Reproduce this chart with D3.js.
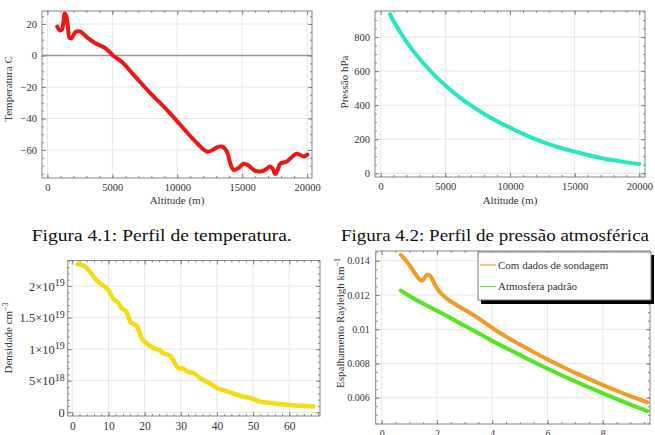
<!DOCTYPE html>
<html><head><meta charset="utf-8">
<script src="https://cdn.jsdelivr.net/npm/d3@7"></script>
<style>body{margin:0;background:#fff} svg{display:block}</style>
</head><body><svg id="c" width="655" height="435"></svg>
<script>
// ---------- data ----------
const tempAlt = [750, 950, 1130, 1330, 1450, 1560, 1715, 1900, 2150, 2490, 2800, 3050, 3690, 4460, 5050, 5740, 6640, 7920, 9200, 10230, 11510, 12280, 12670, 13050, 13440, 13820, 14080, 14330, 14720, 15100, 15490, 16000, 16640, 17150, 17360, 17540, 17740, 17920, 18440, 19200, 19720, 20020];
const tempVal = [18.4, 15.9, 16.8, 26.9, 25, 19.5, 11, 11.4, 14.8, 15.3, 13.5, 11.5, 7.8, 4.7, 0, -4.2, -12.3, -23.9, -34.5, -44, -55.6, -61, -60.3, -58.4, -57.8, -61, -68.3, -72.6, -71.5, -68.8, -69.8, -73.2, -73.2, -70.5, -72, -75.3, -72.6, -68.8, -67.3, -62.4, -64.1, -62.9];

const pressAlt = [720, 1000, 2000, 3000, 4000, 5000, 6000, 7000, 8000, 9000, 10000, 11000, 12000, 13000, 14000, 15000, 16000, 17000, 18000, 19000, 20000];
const pressVal = [935, 893, 772, 672, 588, 515, 452, 397, 348, 306, 268, 231, 199, 171, 147, 127, 107, 90, 76, 64, 54];

const densX = [1.4, 3.5, 4.7, 6.3, 7.7, 9, 10.2, 11.3, 12.7, 13.6, 15.0, 16.1, 17.8, 19.2, 20.6, 22.4, 24.0, 25.3, 27.0, 28.1, 29.3, 30.7, 32.0, 33.7, 35.3, 36.7, 38.0, 39.9, 41.7, 44.5, 47.2, 49.5, 51.9, 54.6, 57.4, 60.1, 62.9, 66.6];
const densVal = [2.35e19, 2.31e19, 2.24e19, 2.12e19, 2.04e19, 1.99e19, 1.92e19, 1.80e19, 1.74e19, 1.65e19, 1.59e19, 1.43e19, 1.37e19, 1.17e19, 1.09e19, 1.02e19, 0.99e19, 0.93e19, 0.90e19, 0.80e19, 0.70e19, 0.69e19, 0.64e19, 0.62e19, 0.54e19, 0.50e19, 0.46e19, 0.39e19, 0.35e19, 0.30e19, 0.25e19, 0.22e19, 0.17e19, 0.15e19, 0.13e19, 0.115e19, 0.105e19, 0.09e19];

const rayX1 = [0.69, 1.0, 1.2, 1.39, 1.5, 1.63, 1.75, 1.93, 2.11, 2.47, 2.95, 3.56, 4.16, 4.76, 5.36, 5.97, 6.57, 7.17, 7.78, 8.38, 8.98, 9.62];
const raySondagem = [0.01435, 0.01376, 0.01328, 0.01288, 0.01288, 0.01318, 0.01312, 0.01259, 0.01216, 0.01165, 0.01119, 0.01058, 0.0099, 0.00932, 0.00879, 0.00826, 0.00778, 0.00733, 0.0069, 0.00649, 0.0061, 0.00573];
const rayX2 = [0.69, 1.14, 1.75, 2.35, 2.95, 3.56, 4.16, 4.76, 5.36, 5.97, 6.57, 7.17, 7.78, 8.38, 8.98, 9.62];
const rayPadrao = [0.01226, 0.01181, 0.01129, 0.01078, 0.01025, 0.00972, 0.00918, 0.00869, 0.0082, 0.00772, 0.00727, 0.00684, 0.00641, 0.006, 0.00561, 0.00522];

const altTicks = [0, 5000, 10000, 15000, 20000];
const tempTicks = [-60, -40, -20, 0, 20];
const pressTicks = [0, 200, 400, 600, 800];
const densXTicks = [0, 10, 20, 30, 40, 50, 60];
const densYTicks = [0, 5e18, 1e19, 1.5e19, 2e19];
const densYLabels = [["0", ""], ["5\u00d710", "18"], ["1\u00d710", "19"], ["1.5\u00d710", "19"], ["2\u00d710", "19"]];
const rayXTicks = [0, 2, 4, 6, 8];
const rayYTicks = [0.006, 0.008, 0.01, 0.012, 0.014];
const rayYLabels = ["0.006", "0.008", "0.01", "0.012", "0.014"];
const legendLabels = ["Com dados de sondagem", "Atmosfera padr\u00e3o"];
const captions = ["Figura 4.1: Perfil de temperatura.", "Figura 4.2: Perfil de press\u00e3o atmosf\u00e9rica"];

// ---------- drawing ----------
const svg = d3.select("#c");
const FONT = "'Liberation Serif', 'Times New Roman', serif";
const FRAME = "#858585";
const GRID = "#e6e6e6";

function range(a, b, s) { const r = []; for (let v = a; v <= b + s * 1e-6; v += s) r.push(+v.toPrecision(10)); return r; }

function panel(o) {
  const g = svg.append("g");
  const x = d3.scaleLinear().domain(o.xd).range([o.l, o.r]);
  const y = d3.scaleLinear().domain(o.yd).range([o.b, o.t]);
  g.selectAll(".gx").data(o.xt.filter(v => x(v) > o.l + 3 && x(v) < o.r - 3)).join("line")
    .attr("x1", d => x(d)).attr("x2", d => x(d)).attr("y1", o.t).attr("y2", o.b)
    .attr("stroke", GRID).attr("stroke-width", 1);
  g.selectAll(".gy").data(o.yt.filter(v => y(v) > o.t + 3 && y(v) < o.b - 3)).join("line")
    .attr("y1", d => y(d)).attr("y2", d => y(d)).attr("x1", o.l).attr("x2", o.r)
    .attr("stroke", GRID).attr("stroke-width", 1);
  if (o.zero) {
    g.append("line").attr("x1", o.l).attr("x2", o.r).attr("y1", y(0)).attr("y2", y(0))
      .attr("stroke", "#9a9a9a").attr("stroke-width", 1.5);
  }
  o.series.forEach(s => {
    const pts = s.x.map((v, i) => [v, s.y[i]]);
    g.append("path").datum(pts)
      .attr("d", d3.line().x(d => x(d[0])).y(d => y(d[1])).curve(d3.curveCatmullRom.alpha(0.5)))
      .attr("fill", "none").attr("stroke", s.color).attr("stroke-width", s.w || 4)
      .attr("stroke-linejoin", "round").attr("stroke-linecap", "round");
  });
  const xm = range(o.xm[0], o.xm[1], o.xm[2]).filter(v => x(v) >= o.l && x(v) <= o.r);
  const ym = range(o.ym[0], o.ym[1], o.ym[2]).filter(v => y(v) >= o.t && y(v) <= o.b);
  const mk = (axis, tr, vals, size, fmt, pad, fs) => {
    const a = g.append("g").attr("transform", tr)
      .call(axis.tickValues(vals).tickSize(size).tickPadding(pad || 3).tickFormat(fmt || ""));
    a.select(".domain").remove();
    a.selectAll("line").attr("stroke", FRAME);
    a.selectAll("text").attr("font-family", FONT).attr("font-size", fs || o.fs).attr("fill", "#333");
    return a;
  };
  mk(d3.axisBottom(x), `translate(0,${o.b})`, xm, -2);
  mk(d3.axisTop(x), `translate(0,${o.t})`, xm, -2);
  mk(d3.axisLeft(y), `translate(${o.l},0)`, ym, -2);
  mk(d3.axisRight(y), `translate(${o.r},0)`, ym, -2);
  mk(d3.axisBottom(x), `translate(0,${o.b})`, o.xt, -4, o.xf || (d => d), o.xpad, o.xfs);
  mk(d3.axisTop(x), `translate(0,${o.t})`, o.xt, -4);
  const ly = mk(d3.axisLeft(y), `translate(${o.l},0)`, o.yt, -4, o.yf || (d => d), o.ypad, o.yfs);
  mk(d3.axisRight(y), `translate(${o.r},0)`, o.yt, -4);
  if (o.ysup) {
    const yfs = o.yfs || o.fs;
    ly.selectAll("text").each(function (d, i) {
      const t = d3.select(this); t.text("");
      const lab = o.ysup[i];
      t.append("tspan").text(lab[0]);
      if (lab[1]) t.append("tspan").attr("dy", "-0.42em").attr("font-size", yfs * 0.8).text(lab[1]);
    });
  }
  g.append("rect").attr("x", o.l).attr("y", o.t).attr("width", o.r - o.l).attr("height", o.b - o.t)
    .attr("fill", "none").attr("stroke", FRAME).attr("stroke-width", 1);
  if (o.xl) g.append("text").attr("x", (o.l + o.r) / 2 + (o.xlo || 0)).attr("y", o.xly).attr("text-anchor", "middle")
    .attr("font-family", FONT).attr("font-size", o.lfs).attr("fill", "#333").text(o.xl);
  if (o.yl) {
    const t = g.append("text").attr("transform", `translate(${o.ylx},${o.yly}) rotate(-90)`).attr("text-anchor", "middle")
      .attr("font-family", FONT).attr("font-size", o.ylfs || o.lfs).attr("fill", "#333");
    t.append("tspan").text(o.yl);
    if (o.ylsup) t.append("tspan").attr("dy", "-0.45em").attr("font-size", (o.ylfs || o.lfs) * 0.72).text(o.ylsup);
  }
  return { g, x, y };
}

const minus = d => d < 0 ? "\u2212" + Math.abs(d) : String(d);

// Panel 1: temperature
panel({
  l: 42, r: 312, t: 11, b: 178, xd: [-420, 20380], yd: [-77.8, 28.25],
  xt: altTicks, yt: tempTicks, xm: [0, 20000, 1000], ym: [-75, 25, 5],
  yf: minus, fs: 10.5, xpad: 6, ypad: 5, zero: true,
  series: [{ x: tempAlt, y: tempVal, color: "#ee1515", w: 4 }],
  xl: "Altitude (m)", xly: 204, lfs: 11, yl: "Temperatura C", ylx: 12, yly: 89
});

// Panel 2: pressure
panel({
  l: 375, r: 645, t: 11, b: 177, xd: [-440, 20440], yd: [-22, 953],
  xt: altTicks, yt: pressTicks, xm: [0, 20000, 1000], ym: [0, 950, 50],
  fs: 10.5, xpad: 6, ypad: 5,
  series: [{ x: pressAlt, y: pressVal, color: "#26e8bf", w: 4 }],
  xl: "Altitude (m)", xly: 204, lfs: 11, yl: "Press\u00e3o hPa", ylx: 348, yly: 82
});

// Panel 3: density
panel({
  l: 67.7, r: 320, t: 260.5, b: 416, xd: [-1.27, 68.5], yd: [-5.86e17, 2.404e19],
  xt: densXTicks, yt: densYTicks, xm: [0, 68, 2], ym: [0, 2.4e19, 1e18],
  ysup: densYLabels, fs: 11.5, yfs: 12.5, xpad: 6, ypad: 3,
  series: [{ x: densX, y: densVal, color: "#f7da10", w: 4.5 }],
  lfs: 11, yl: "Densidade cm", ylsup: "\u22123", ylx: 12, yly: 338
});

// Panel 4: Rayleigh
panel({
  l: 375.7, r: 650, t: 251, b: 424, xd: [-0.217, 9.71], yd: [0.004464, 0.01457],
  xt: rayXTicks, yt: rayYTicks, xm: [0, 9.5, 0.5], ym: [0.0045, 0.0145, 0.0005],
  yf: (d, i) => rayYLabels[i], fs: 10, xpad: 6, ypad: 6,
  series: [{ x: rayX1, y: raySondagem, color: "#f59a1e", w: 4 },
           { x: rayX2, y: rayPadrao, color: "#52e620", w: 4 }],
  lfs: 11, yl: "Espalhamento Rayleigh km", ylsup: "\u22121", ylfs: 11, ylx: 344, yly: 323
});

// legend
const lg = svg.append("g");
lg.append("rect").attr("x", 481).attr("y", 255).attr("width", 173).attr("height", 49).attr("fill", "#000");
lg.append("rect").attr("x", 478).attr("y", 252).attr("width", 173).attr("height", 48).attr("fill", "#fff").attr("stroke", "#777").attr("stroke-width", 1);
[["#f5a33a", 265], ["#6ae64a", 286.5]].forEach((c, i) => {
  lg.append("line").attr("x1", 480).attr("x2", 496).attr("y1", c[1]).attr("y2", c[1]).attr("stroke", c[0]).attr("stroke-width", 1.2);
  lg.append("text").attr("x", 498).attr("y", c[1] + 3.5).attr("font-family", FONT).attr("font-size", 11).attr("fill", "#333").text(legendLabels[i]);
});

// captions
svg.append("text").attr("x", 31.7).attr("y", 241).attr("font-family", "'Liberation Serif', serif").attr("font-size", 17.5)
  .attr("textLength", 260).attr("lengthAdjust", "spacingAndGlyphs").attr("fill", "#111").text(captions[0]);
svg.append("text").attr("x", 341).attr("y", 241).attr("font-family", "'Liberation Serif', serif").attr("font-size", 17.5)
  .attr("textLength", 308).attr("lengthAdjust", "spacingAndGlyphs").attr("fill", "#111").text(captions[1]);
</script>
</body></html>
